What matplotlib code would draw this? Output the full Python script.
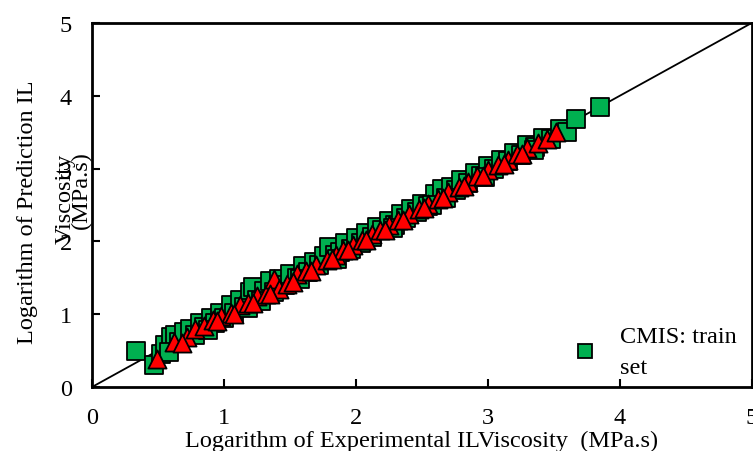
import matplotlib
matplotlib.use("Agg")
import matplotlib.pyplot as plt
from matplotlib.lines import Line2D

plt.rcParams['font.family'] = ['Liberation Serif', 'DejaVu Serif']

train_x = [0.33, 0.47, 0.52, 0.55, 0.60, 0.63, 0.66, 0.70, 0.74, 0.78, 0.82, 0.85, 0.90, 0.93,
           0.97, 1.00, 1.05, 1.08, 1.12, 1.15, 1.20, 1.22, 1.25, 1.30, 1.35, 1.38, 1.42, 1.46,
           1.50, 1.55, 1.60, 1.64, 1.68, 1.72, 1.76, 1.80, 1.84, 1.88, 1.92, 1.96, 2.00, 2.04,
           2.08, 2.12, 2.16, 2.20, 2.25, 2.30, 2.34, 2.38, 2.42, 2.46, 2.50, 2.55, 2.60, 2.65,
           2.68, 2.72, 2.76, 2.80, 2.85, 2.90, 2.95, 3.00, 3.05, 3.10, 3.15, 3.20, 3.25, 3.30,
           3.36, 3.42, 3.48, 3.55, 3.60, 3.67, 3.85, 0.58, 0.88, 1.18, 1.28, 1.58, 1.86, 2.28,
           2.58, 2.98, 3.35]
train_y = [0.50, 0.30, 0.45, 0.58, 0.68, 0.72, 0.62, 0.75, 0.80, 0.72, 0.88, 0.82, 0.95, 0.88,
           1.02, 0.95, 1.12, 1.02, 1.20, 1.10, 1.30, 1.38, 1.20, 1.32, 1.45, 1.30, 1.48, 1.40,
           1.55, 1.50, 1.66, 1.58, 1.72, 1.68, 1.80, 1.92, 1.82, 1.86, 1.98, 1.90, 2.05, 1.98,
           2.12, 2.06, 2.20, 2.15, 2.28, 2.22, 2.38, 2.32, 2.45, 2.40, 2.52, 2.48, 2.65, 2.72,
           2.60, 2.75, 2.70, 2.84, 2.80, 2.94, 2.90, 3.04, 3.00, 3.12, 3.10, 3.22, 3.18, 3.32,
           3.30, 3.42, 3.40, 3.55, 3.50, 3.68, 3.85, 0.48, 0.78, 1.08, 1.18, 1.48, 1.76, 2.18,
           2.50, 2.88, 3.25]

test_x = [0.49, 0.62, 0.72, 0.78, 0.85, 0.92, 0.98, 1.05, 1.12, 1.18, 1.25, 1.32, 1.38, 1.42,
          1.48, 1.55, 1.62, 1.70, 1.78, 1.85, 1.90, 1.98, 2.05, 2.12, 2.18, 2.25, 2.32, 2.40,
          2.48, 2.55, 2.62, 2.70, 2.78, 2.85, 2.92, 3.00, 3.08, 3.15, 3.22, 3.30, 3.38, 3.45,
          3.52, 0.68, 0.95, 1.08, 1.22, 1.35, 1.52, 1.66, 1.82, 1.94, 2.08, 2.22, 2.36, 2.52,
          2.66, 2.82, 2.96, 3.12, 3.26]
test_y = [0.38, 0.62, 0.68, 0.80, 0.84, 0.92, 0.98, 1.02, 1.12, 1.15, 1.25, 1.28, 1.48, 1.35,
          1.42, 1.55, 1.60, 1.68, 1.75, 1.82, 1.88, 1.95, 2.02, 2.10, 2.15, 2.22, 2.30, 2.38,
          2.45, 2.52, 2.58, 2.68, 2.75, 2.82, 2.90, 2.98, 3.05, 3.12, 3.20, 3.28, 3.35, 3.40,
          3.50, 0.60, 0.90, 1.00, 1.16, 1.28, 1.44, 1.60, 1.76, 1.88, 2.02, 2.16, 2.30, 2.46,
          2.60, 2.76, 2.90, 3.06, 3.20]

ticks = [0, 1, 2, 3, 4, 5]

fig = plt.figure(figsize=(7.53, 4.52), dpi=100)
ax = fig.add_axes([0.1222, 0.1416, 0.876, 0.8053])

ax.plot([0, 5], [0, 5], color='black', lw=1.3, zorder=1)
ax.scatter(train_x, train_y, marker='s', s=160, facecolor='#00B050', edgecolor='black',
           linewidth=1.3, zorder=2)
ax.scatter(test_x, test_y, marker='^', s=170, facecolor='#FF0000', edgecolor='black',
           linewidth=1.3, zorder=3)

ax.set_xlim(0, 5)
ax.set_ylim(0, 5)
ax.set_xticks(ticks)
ax.set_yticks(ticks)
ax.tick_params(direction='in', length=6, width=1.5, labelsize=17.5)
ax.tick_params(axis='x', pad=14.5)
ax.tick_params(axis='y', pad=14.5)
for s in ax.spines.values():
    s.set_linewidth(2)

ax.set_xlabel('Logarithm of Experimental ILViscosity  (MPa.s)', fontsize=17.5, labelpad=1)
fig.text(0.036, 0.53, 'Logarithm of Prediction IL', rotation=90, fontsize=17.5,
         ha='center', va='center')
fig.text(0.086, 0.56, 'Viscosity', rotation=90, fontsize=17.5, ha='center', va='center')
fig.text(0.108, 0.58, '(MPa.s)', rotation=90, fontsize=17.5, ha='center', va='center')

h = Line2D([], [], marker='s', linestyle='none', markersize=9.5, markerfacecolor='#00B050',
           markeredgecolor='black', markeredgewidth=1.3)
ax.legend([h], ['CMIS: train\nset'], loc='lower right', frameon=False,
          handlelength=1.0, handletextpad=0.95, borderaxespad=0.2,
          prop={'size': 17.5}, bbox_to_anchor=(1.0, -0.014))
leg = ax.get_legend()
for t in leg.get_texts():
    t.set_linespacing(1.6)

fig.savefig('out.png', dpi=100)
